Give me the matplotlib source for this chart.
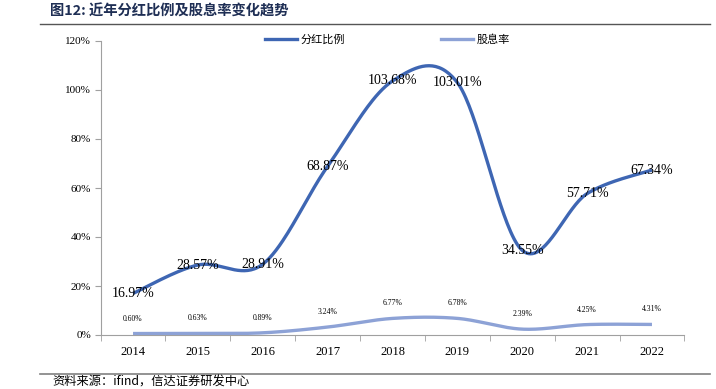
import numpy as np
import matplotlib
matplotlib.use("Agg")
import matplotlib.pyplot as plt
from matplotlib.lines import Line2D

years = ["2014", "2015", "2016", "2017", "2018", "2019", "2020", "2021", "2022"]
payout = [16.97, 28.57, 28.91, 68.87, 103.68, 103.01, 34.55, 57.71, 67.34]
yield_ = [0.60, 0.63, 0.89, 3.24, 6.77, 6.78, 2.39, 4.25, 4.31]
yticks = [0, 20, 40, 60, 80, 100, 120]

CJK = ["Noto Sans CJK SC", "DejaVu Sans"]
SERIF = "Liberation Serif"
C_DARK = "#3E66B3"
C_LIGHT = "#8DA2D6"


def smooth(xs, ys, n=40):
    xs = np.asarray(xs, float); ys = np.asarray(ys, float)
    P = np.column_stack([xs, ys])
    out = []
    m = len(P)
    for i in range(m - 1):
        p0 = P[i - 1] if i > 0 else P[i]
        p1 = P[i]; p2 = P[i + 1]
        p3 = P[i + 2] if i + 2 < m else P[i + 1]
        c1 = p1 + (p2 - p0) / 6.0
        c2 = p2 - (p3 - p1) / 6.0
        t = np.linspace(0, 1, n)[:, None]
        seg = ((1 - t) ** 3) * p1 + 3 * ((1 - t) ** 2) * t * c1 + 3 * (1 - t) * t ** 2 * c2 + t ** 3 * p2
        out.append(seg if i == 0 else seg[1:])
    S = np.vstack(out)
    return S[:, 0], S[:, 1]


fig = plt.figure(figsize=(7.16, 3.89), dpi=100)
ax = fig.add_axes([100.6 / 716, 1 - 335 / 389, (684.4 - 100.6) / 716, (335 - 41) / 389])

x = np.arange(len(years))
sx, sy = smooth(x, payout)
ax.plot(sx, sy, color=C_DARK, lw=2.4, solid_capstyle="butt", zorder=3)
sx2, sy2 = smooth(x, yield_)
ax.plot(sx2, sy2, color=C_LIGHT, lw=2.4, solid_capstyle="butt", zorder=3)

for xi, v in zip(x, payout):
    ax.text(xi, v, f"{v:.2f}%", ha="center", va="center", fontsize=10, family=SERIF, color="black", zorder=4)
for xi, v in zip(x, yield_):
    ax.annotate(f"{v:.2f}%", (xi, v), xytext=(0, 15), textcoords="offset pixels",
                ha="center", va="center", fontsize=5.5, family=SERIF, color="black", zorder=4)

ax.set_xlim(-0.5, len(years) - 0.5)
ax.set_ylim(0, 120)
ax.set_yticks(yticks)
ax.set_yticklabels([f"{t}%" for t in yticks], family=SERIF, fontsize=8)
ax.set_xticks(x)
ax.set_xticklabels(years, family=SERIF, fontsize=9)
ax.set_xticks(np.arange(-0.5, len(years), 1), minor=True)
ax.tick_params(axis="x", which="major", length=0, pad=8)
ax.tick_params(axis="x", which="minor", length=4, color="#A0A0A0", direction="out")
ax.tick_params(axis="y", length=4, color="#A0A0A0", direction="out", pad=3)
for s in ["top", "right"]:
    ax.spines[s].set_visible(False)
for s in ["left", "bottom"]:
    ax.spines[s].set_color("#A0A0A0")
    ax.spines[s].set_linewidth(0.8)

handles = [Line2D([], [], color=C_DARK, lw=2.4), Line2D([], [], color=C_LIGHT, lw=2.4)]
leg = ax.legend(handles, ["分红比例", "股息率"], loc="center",
                bbox_to_anchor=((387.5 - 100.6) / 583.8, (335 - 40) / 294),
                ncol=2, frameon=False, prop={"family": CJK, "size": 8}, handlelength=2.9,
                columnspacing=8.6, handletextpad=0.3, borderpad=0.2)

fig.text(50 / 716, 1 - 11 / 389, "图12: 近年分红比例及股息率变化趋势", family=CJK, fontsize=10.3,
         fontweight="bold", color="#1F2F55", va="center", ha="left")
fig.add_artist(Line2D([40 / 716, 710 / 716], [1 - 24 / 389, 1 - 24 / 389], color="#555555", lw=1.0))
fig.add_artist(Line2D([40 / 716, 710 / 716], [1 - 374 / 389, 1 - 374 / 389], color="#808080", lw=1.2))
fig.text(52 / 716, 1 - 382 / 389, "资料来源：ifind，信达证券研发中心", family=CJK, fontsize=8.8,
         style="italic", color="black", va="center", ha="left")

fig.savefig("out.png", dpi=100)
